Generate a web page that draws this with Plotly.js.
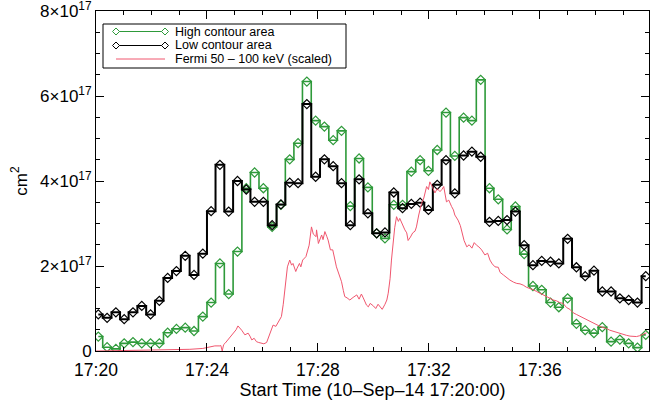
<!DOCTYPE html>
<html>
<head>
<meta charset="utf-8">
<script src="https://cdn.plot.ly/plotly-3.0.1.min.js"></script>
<style>html,body{margin:0;padding:0;background:#fff}#chart{width:650px;height:400px}</style>
</head>
<body>
<div id="chart"></div>
<script>
// Time offsets (seconds after 17:20:00) of the contour-area samples
var areaSeconds = [5,24,43,61,80,99,118,137,155,174,193,212,231,249,268,287,306,325,343,362,381,400,419,437,456,475,494,513,531,550,569,588,607,625,644,663,682,701,719,738,757,776,795,813,832,851,870,889,907,926,945,964,983,1001,1020,1039,1058,1077,1095,1114,1133,1152,1171,1189];
// High contour area (units of 1e17 cm^2)
var highArea = [0.34,0.09,0.05,0.18,0.21,0.18,0.18,0.18,0.43,0.52,
0.55,0.47,0.81,1.14,2.06,1.34,2.34,3.83,4.20,3.83,
2.92,3.44,4.51,4.89,6.34,5.42,5.28,4.96,5.18,3.41,
4.53,3.85,2.77,2.65,3.44,3.44,4.22,4.49,4.24,4.73,
5.61,4.59,5.49,5.42,6.38,3.83,3.57,2.86,3.40,2.28,
1.53,1.44,1.14,1.03,1.24,0.64,0.49,0.42,0.56,0.22,
0.27,0.18,0.08,0.38];
// Low contour area (units of 1e17 cm^2)
var lowArea = [0.86,0.78,0.91,0.75,0.91,1.06,0.86,1.18,1.72,1.88,
2.24,1.79,2.29,3.29,4.38,3.28,4.00,3.80,3.51,3.51,
2.96,3.45,3.96,3.95,5.81,4.10,4.51,4.35,3.95,2.96,
4.04,3.24,2.77,2.79,3.73,3.36,3.46,3.49,3.32,3.91,
4.49,3.71,4.60,4.69,4.57,3.04,3.06,3.08,3.28,2.49,
2.02,2.12,2.10,2.06,2.64,1.97,1.76,1.89,1.40,1.40,
1.24,1.20,1.14,1.76];
// Fermi 50-100 keV (scaled) light curve: time offsets (s) and values (1e17 units)
var fermiSeconds = [0,52,117,171,203,231,246,257,268,270,273,276,279,285,296,303,307,311,315,322,329,333,337,342,347,352,358,363,369,376,383,389,394,401,405,409,414,419,423,426,432,435,440,443,447,454,461,466,470,476,477,481,484,488,491,495,499,502,507,512,520,525,531,535,538,543,549,556,564,569,574,578,582,585,589,593,600,605,610,614,619,625,629,632,636,639,643,646,650,654,657,664,668,672,675,680,685,690,693,698,704,709,715,719,722,728,733,738,744,748,752,758,763,769,773,776,783,788,791,796,802,807,813,818,823,828,834,841,847,852,857,863,870,874,881,888,895,903,910,917,924,931,938,946,953,960,967,974,982,989,996,1003,1010,1018,1025,1032,1039,1046,1054,1061,1068,1076,1083,1090,1097,1104,1111,1119,1126,1133,1140,1147,1155,1162,1169,1176,1183,1191];
var fermiValues = [0.00,0.01,0.02,0.03,0.04,0.06,0.10,0.12,0.12,0.13,0.00,0.15,0.18,0.26,0.38,0.50,0.59,0.55,0.49,0.38,0.42,0.35,0.26,0.30,0.22,0.20,0.19,0.17,0.20,0.42,0.61,0.58,0.68,0.81,1.10,1.44,1.98,2.14,2.02,2.06,1.87,1.95,2.06,1.98,2.14,2.22,2.49,2.92,2.75,2.69,2.85,2.53,2.60,2.73,2.62,2.81,2.70,2.61,2.38,2.38,1.98,1.80,1.63,1.42,1.28,1.25,1.20,1.26,1.32,1.22,1.34,1.25,1.16,1.08,1.04,1.12,1.06,1.00,1.10,1.04,0.98,1.10,1.20,1.36,1.70,2.14,2.60,2.90,3.16,3.05,3.12,2.92,2.85,2.78,2.60,2.68,2.78,2.82,2.92,3.20,3.47,3.60,3.87,3.80,3.98,3.85,3.72,3.82,3.75,3.80,3.87,3.51,3.55,3.40,3.32,3.20,3.08,2.95,2.81,2.60,2.45,2.50,2.42,2.55,2.49,2.45,2.38,2.26,2.30,2.14,2.05,1.98,1.97,1.85,1.79,1.72,1.67,1.62,1.59,1.58,1.55,1.50,1.48,1.44,1.40,1.36,1.32,1.28,1.24,1.20,1.18,1.14,1.12,1.02,0.98,0.90,0.86,0.82,0.78,0.73,0.70,0.65,0.61,0.58,0.55,0.53,0.49,0.46,0.43,0.41,0.38,0.37,0.35,0.34,0.34,0.36,0.40,0.43];
// Axis labels and legend texts
var yTickVals = [0,2,4,6,8];
var yTickText = ['0','2\u00d710<sup>17</sup>','4\u00d710<sup>17</sup>','6\u00d710<sup>17</sup>','8\u00d710<sup>17</sup>'];
var seriesNames = ['High contour area','Low contour area','Fermi 50 \u2013 100 keV (scaled)'];
var seriesColors = ['#2e9a3a','#000000','#f0566e'];
var xTitle = 'Start Time (10\u2013Sep\u201314 17:20:00)';
var yTitle = 'cm<sup>2</sup>';

var base = Date.UTC(2014,8,10,17,20,0);
function toTime(arr){ return arr.map(function(s){ return base + s*1000; }); }

var font = 'Liberation Sans, Arial, Helvetica, sans-serif';
var traces = [
  {x: toTime(areaSeconds), y: highArea, name: seriesNames[0], type:'scatter', mode:'lines+markers', showlegend:false,
   line:{shape:'hvh', color:seriesColors[0], width:1.6},
   marker:{symbol:'diamond-open', size:7, color:seriesColors[0], line:{width:1.2, color:seriesColors[0]}}},
  {x: toTime(areaSeconds), y: lowArea, name: seriesNames[1], type:'scatter', mode:'lines+markers', showlegend:false,
   line:{shape:'hvh', color:seriesColors[1], width:2},
   marker:{symbol:'diamond-open', size:7, color:seriesColors[1], line:{width:1.2, color:seriesColors[1]}}},
  {x: toTime(fermiSeconds), y: fermiValues, name: seriesNames[2], type:'scatter', mode:'lines', showlegend:false,
   line:{color:seriesColors[2], width:1}}
];

// Hand-built legend (box, line samples with end diamonds, texts) in paper coordinates
var W = 553, H = 340;
function px(x){ return (x - 96) / W; }
function py(y){ return (351 - y) / H; }
var shapes = [{type:'rect', xref:'paper', yref:'paper', x0:px(103), x1:px(346), y0:py(68), y1:py(24),
               line:{color:'#000', width:1}, fillcolor:'#fff', layer:'above'}];
var annotations = [];
var rowY = [31.5, 45.5, 59];
for (var i = 0; i < 3; i++) {
  shapes.push({type:'line', xref:'paper', yref:'paper', x0:px(116), x1:px(165), y0:py(rowY[i]), y1:py(rowY[i]),
               line:{color:seriesColors[i], width:1}, layer:'above'});
  if (i < 2) {
    [116, 165].forEach(function(xx){
      shapes.push({type:'path', xref:'paper', yref:'paper', xsizemode:'pixel', ysizemode:'pixel',
                   xanchor:px(xx), yanchor:py(rowY[i]), path:'M -3.5 0 L 0 3.5 L 3.5 0 L 0 -3.5 Z',
                   line:{color:seriesColors[i], width:1}, fillcolor:'#fff', layer:'above'});
    });
  }
  annotations.push({xref:'paper', yref:'paper', x:px(173), y:py(rowY[i]), xanchor:'left', yanchor:'middle',
                    text:seriesNames[i], showarrow:false, font:{family:font, size:12.5, color:'#000'}});
}

var layout = {
  width:650, height:400,
  margin:{l:96, r:1, t:11, b:49},
  paper_bgcolor:'#fff', plot_bgcolor:'#fff',
  font:{family:font, size:16, color:'#000'},
  showlegend:false,
  shapes:shapes, annotations:annotations,
  xaxis:{type:'date', range:[base, base+1196000], tickformat:'%H:%M', dtick:240000, tick0:base,
         ticks:'inside', ticklen:8, tickwidth:1, tickcolor:'#000', showline:true, linecolor:'#000', linewidth:1,
         mirror:'ticks', showgrid:false, zeroline:false, ticklabelstandoff:3, ticklabeloverflow:'allow',
         minor:{dtick:60000, ticks:'inside', ticklen:4, tickcolor:'#000', showgrid:false},
         tickfont:{size:17.5}, title:{text:xTitle, font:{size:18}, standoff:5}},
  yaxis:{range:[0,8], tickvals:yTickVals, ticktext:yTickText, ticklabeloverflow:'allow',
         ticks:'inside', ticklen:8, tickwidth:1, tickcolor:'#000', showline:true, linecolor:'#000', linewidth:1,
         mirror:'ticks', showgrid:false, zeroline:false,
         minor:{dtick:0.5, ticks:'inside', ticklen:4, tickcolor:'#000', showgrid:false},
         tickfont:{size:17}, title:{text:yTitle, font:{size:17}, standoff:8}}
};
Plotly.newPlot('chart', traces, layout, {displayModeBar:false, staticPlot:true});
</script>
</body>
</html>
